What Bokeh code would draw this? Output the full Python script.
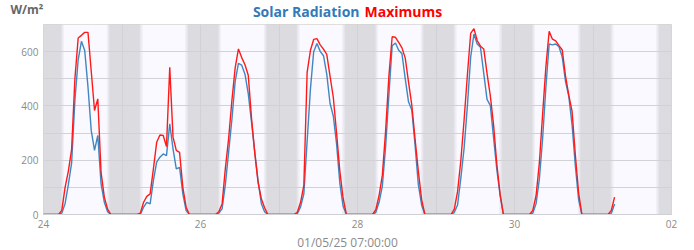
import pandas as pd
from bokeh.plotting import figure
from bokeh.layouts import column
from bokeh.models import ColumnDataSource, FixedTicker, Range1d
from bokeh.core.properties import value
from bokeh.embed import file_html
from bokeh.resources import INLINE

# ---------------- data ----------------
series_start = "2025-04-24 00:00"
series_end = "2025-05-02 00:00"
day_dates = ["2025-04-24", "2025-04-25", "2025-04-26", "2025-04-27",
             "2025-04-28", "2025-04-29", "2025-04-30"]
last_day = "2025-05-01"
# sample times (hour of day) for each daylight period
sample_hours = [4.6, 5.6, 6.6, 7.6, 8.6, 9.6, 10.6, 11.6, 12.6, 13.6,
                14.6, 15.6, 16.6, 17.6, 18.6, 19.6, 20.6]
last_sample_hours = [4.6, 5.6, 6.6]

solar_apr24 = [0, 5, 40, 110, 190, 420, 570, 638, 604, 470, 309, 236, 291, 113, 45, 10, 0]
max_apr24 = [0, 15, 100, 160, 240, 500, 650, 660, 671, 671, 527, 383, 426, 155, 64, 20, 0]
solar_apr25 = [0, 0, 27, 45, 39, 125, 193, 211, 223, 217, 334, 242, 168, 174, 76, 15, 0]
max_apr25 = [0, 5, 45, 67, 76, 168, 266, 293, 291, 250, 542, 285, 236, 229, 100, 27, 0]
solar_apr26 = [0, 5, 21, 110, 230, 350, 490, 557, 550, 517, 445, 340, 230, 125, 40, 10, 0]
max_apr26 = [0, 10, 39, 170, 280, 420, 540, 610, 578, 552, 513, 355, 225, 118, 58, 25, 0]
solar_apr27 = [0, 3, 28, 76, 270, 460, 600, 630, 601, 585, 517, 410, 363, 260, 115, 30, 0]
max_apr27 = [0, 8, 45, 107, 524, 604, 645, 648, 625, 609, 590, 510, 432, 300, 160, 60, 0]
solar_apr28 = [0, 8, 45, 105, 250, 440, 622, 632, 605, 592, 500, 415, 385, 255, 110, 35, 0]
max_apr28 = [0, 18, 70, 145, 308, 510, 655, 653, 634, 614, 576, 488, 403, 278, 160, 55, 0]
solar_apr29 = [0, 8, 35, 135, 245, 400, 580, 665, 628, 616, 520, 424, 402, 283, 165, 70, 0]
max_apr29 = [0, 20, 85, 200, 350, 515, 667, 685, 641, 620, 610, 520, 438, 330, 185, 75, 0]
solar_apr30 = [0, 5, 40, 130, 280, 470, 628, 625, 628, 618, 580, 490, 435, 330, 180, 55, 0]
max_apr30 = [0, 15, 70, 190, 370, 545, 675, 646, 640, 622, 606, 510, 440, 380, 220, 80, 0]
solar_may01 = [0, 5, 39]
max_may01 = [0, 15, 64]

sunrise_hour = 5.4
sunset_hour = 20.2
tick_dates = ["2025-04-24", "2025-04-26", "2025-04-28", "2025-04-30", "2025-05-02"]
tick_labels = ["24", "26", "28", "30", "02"]
y_ticks = [0, 200, 400, 600]
y_grid = [0, 100, 200, 300, 400, 500, 600, 700]
title_left = "Solar Radiation"
title_right = "Maximums"
unit_text = "W/m²"
x_title = "01/05/25 07:00:00"

# ---------------- build series ----------------
solar_days = [solar_apr24, solar_apr25, solar_apr26, solar_apr27,
              solar_apr28, solar_apr29, solar_apr30]
max_days = [max_apr24, max_apr25, max_apr26, max_apr27,
            max_apr28, max_apr29, max_apr30]

times = [pd.Timestamp(series_start)]
solar = [0]
maxima = [0]
for d, s, m in zip(day_dates, solar_days, max_days):
    base = pd.Timestamp(d)
    for h, sv, mv in zip(sample_hours, s, m):
        times.append(base + pd.Timedelta(hours=h))
        solar.append(sv)
        maxima.append(mv)
base = pd.Timestamp(last_day)
for h, sv, mv in zip(last_sample_hours, solar_may01, max_may01):
    times.append(base + pd.Timedelta(hours=h))
    solar.append(sv)
    maxima.append(mv)

src = ColumnDataSource(dict(t=times, solar=solar, maxima=maxima))

# day / twilight bands
band_l, band_r, band_c = [], [], []
fade = ["#e3e1ea", "#ebe9f3", "#f2f0f9", "#f6f5fc"]
step = 0.2
for d in day_dates + [last_day]:
    base = pd.Timestamp(d)
    for i, c in enumerate(fade):
        band_l.append(base + pd.Timedelta(hours=sunrise_hour + i * step))
        band_r.append(base + pd.Timedelta(hours=sunrise_hour + (i + 1) * step))
        band_c.append(c)
        band_l.append(base + pd.Timedelta(hours=sunset_hour - (i + 1) * step))
        band_r.append(base + pd.Timedelta(hours=sunset_hour - i * step))
        band_c.append(c)
    band_l.append(base + pd.Timedelta(hours=sunrise_hour + len(fade) * step))
    band_r.append(base + pd.Timedelta(hours=sunset_hour - len(fade) * step))
    band_c.append("#faf9ff")
bands = ColumnDataSource(dict(l=band_l, r=band_r, c=band_c))

FONT = "Open Sans"
W = 694
TOP_H = 24
MAIN_H = 208
BOT_H = 250 - TOP_H - MAIN_H
FRAME_L, FRAME_R = 43, 671


def no_title(f):
    try:
        f.title = None
    except Exception:
        f.title.text = ""


def text_strip(h):
    f = figure(width=W, height=h, y_range=Range1d(h, 0),
               output_backend="svg", toolbar_location=None, min_border=0,
               x_axis_location=None, y_axis_location=None)
    no_title(f)
    if "frame_align" in f.properties():
        f.frame_align = False
        f.x_range = Range1d(0, W)
    else:
        f.min_border_left = FRAME_L
        f.min_border_right = W - FRAME_R
        f.x_range = Range1d(FRAME_L, FRAME_R)
    f.xgrid.visible = False
    f.ygrid.visible = False
    f.outline_line_color = None
    f.background_fill_color = "white"
    f.border_fill_color = "white"
    return f


# ---------------- title strip ----------------
top = text_strip(TOP_H)
top.text(x=[359], y=[11], text=[title_left], text_align=value("right"),
         text_baseline=value("alphabetic"), text_font=value(FONT),
         text_font_size=value("14px"), text_font_style=value("bold"),
         text_color="#337ab7")
top.text(x=[364], y=[11], text=[title_right], text_align=value("left"),
         text_baseline=value("alphabetic"), text_font=value(FONT),
         text_font_size=value("14px"), text_font_style=value("bold"),
         text_color="#ff0000")
top.text(x=[10], y=[9], text=[unit_text], text_align=value("left"),
         text_baseline=value("alphabetic"), text_font=value(FONT),
         text_font_size=value("12px"), text_font_style=value("bold"),
         text_color="#666666")

# ---------------- main chart ----------------
p = figure(width=W, height=MAIN_H, x_axis_type="datetime",
           x_range=Range1d(pd.Timestamp(series_start), pd.Timestamp(series_end)),
           y_range=Range1d(0, 700),
           output_backend="svg", toolbar_location=None,
           min_border_left=FRAME_L, min_border_right=W - FRAME_R, min_border_top=0,
           min_border_bottom=MAIN_H - 190)
no_title(p)
if "frame_align" in p.properties():
    p.frame_align = False
p.background_fill_color = "#dcdce0"
p.border_fill_color = "white"
p.outline_line_color = "#d6d6d6"

p.quad(left="l", right="r", bottom=0, top=700, fill_color="c", line_color=None,
       source=bands, level="image")

tick_ms = [pd.Timestamp(t).value // 10**6 for t in tick_dates]
p.xaxis.ticker = FixedTicker(ticks=tick_ms)
p.xaxis.major_label_overrides = {t: lab for t, lab in zip(tick_ms, tick_labels)}
day_ms = [pd.Timestamp(series_start).value // 10**6 + i * 86400000 for i in range(9)]
p.xgrid.ticker = FixedTicker(ticks=day_ms)
p.yaxis.ticker = FixedTicker(ticks=y_ticks)
p.ygrid.ticker = FixedTicker(ticks=y_grid)

for g in (p.xgrid, p.ygrid):
    g.grid_line_color = "#d2d2d6"
    g.grid_line_width = 1

for ax in (p.xaxis, p.yaxis):
    ax.major_tick_line_color = None
    ax.minor_tick_line_color = None
    ax.major_tick_out = 0
    ax.major_tick_in = 0
    ax.minor_tick_out = 0
    ax.minor_tick_in = 0
    ax.major_label_text_font = FONT
    ax.major_label_text_font_size = "10px"
    ax.major_label_text_color = "#8a8a8a"
p.yaxis.axis_line_color = None
p.xaxis.axis_line_color = "#cfcfd4"
p.yaxis.major_label_standoff = 5
p.xaxis.major_label_standoff = 5

p.line("t", "solar", source=src, line_color="#3f86c2", line_width=1.4)
p.line("t", "maxima", source=src, line_color="#ff1a1a", line_width=1.4)

# ---------------- bottom strip (x title) ----------------
bot = text_strip(BOT_H)
bot.text(x=[347], y=[10], text=[x_title], text_align=value("center"),
         text_baseline=value("alphabetic"), text_font=value(FONT),
         text_font_size=value("12px"), text_color="#8a8a8a")

layout = column(top, p, bot, spacing=0)
open("out.html", "w").write(file_html(layout, INLINE))
